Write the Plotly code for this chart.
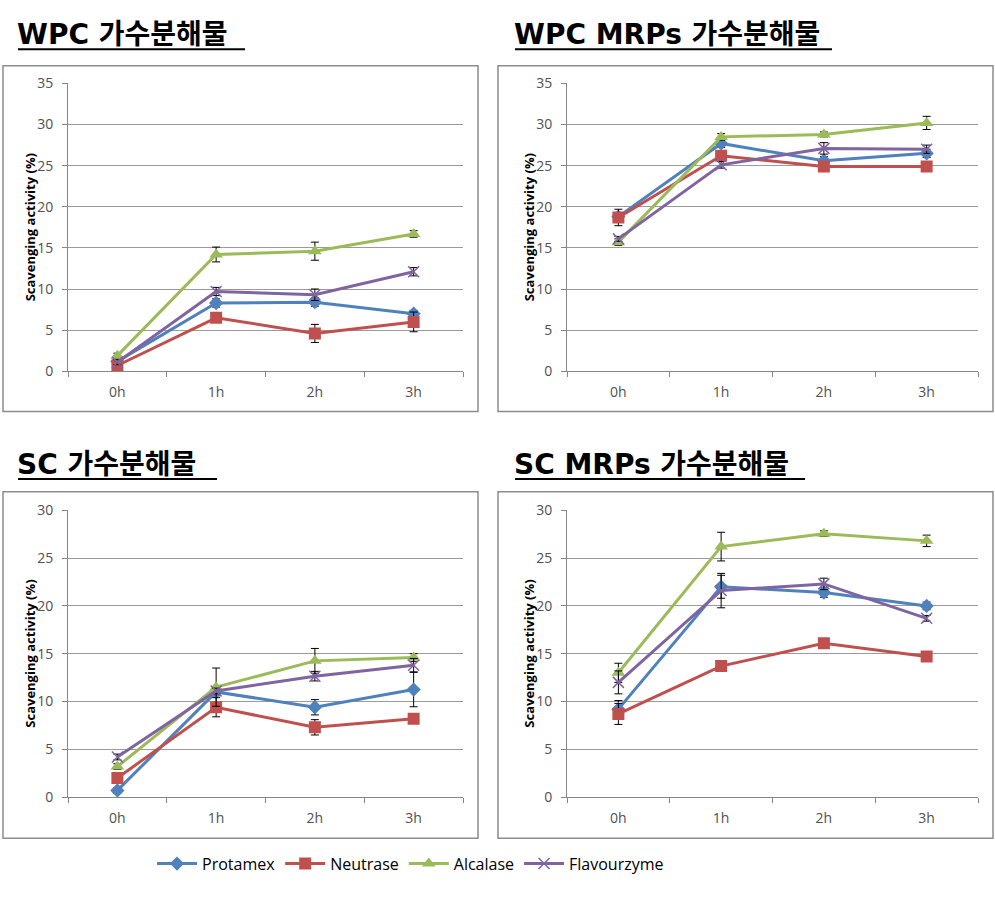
import plotly.graph_objects as go

W, H = 995, 905

hours = ["0h", "1h", "2h", "3h"]
enzymes = ["Protamex", "Neutrase", "Alcalase", "Flavourzyme"]
panel_titles = ["WPC 가수분해물", "WPC MRPs 가수분해물", "SC 가수분해물", "SC MRPs 가수분해물"]

wpc_protamex = [1.2, 8.3, 8.4, 7.0]
wpc_neutrase = [0.7, 6.5, 4.6, 6.0]
wpc_alcalase = [1.9, 14.2, 14.6, 16.7]
wpc_flavourzyme = [1.1, 9.7, 9.3, 12.1]

wpcm_protamex = [18.8, 27.7, 25.6, 26.5]
wpcm_neutrase = [18.7, 26.2, 24.9, 24.9]
wpcm_alcalase = [15.7, 28.5, 28.8, 30.2]
wpcm_flavourzyme = [16.1, 25.1, 27.1, 27.0]

sc_protamex = [0.7, 11.0, 9.4, 11.25]
sc_neutrase = [2.0, 9.4, 7.3, 8.2]
sc_alcalase = [3.2, 11.5, 14.25, 14.6]
sc_flavourzyme = [4.2, 11.1, 12.65, 13.8]

scm_protamex = [9.2, 22.0, 21.4, 20.0]
scm_neutrase = [8.7, 13.7, 16.1, 14.7]
scm_alcalase = [13.0, 26.2, 27.55, 26.8]
scm_flavourzyme = [12.0, 21.6, 22.3, 18.7]

wpc_err = [[0.3, 0.5, 0.5, 0.4], [0.3, 0.5, 1.1, 1.2], [0.3, 0.9, 1.1, 0.4], [0.3, 0.5, 0.7, 0.5]]
wpcm_err = [[0.5, 0.5, 0.5, 0.5], [1.0, 0.6, 0.4, 0.3], [0.4, 0.4, 0.3, 0.8], [0.3, 0.4, 0.7, 0.5]]
sc_err = [[0.3, 0.4, 0.8, 1.8], [0.3, 1.0, 0.8, 0.4], [0.3, 2.0, 1.3, 0.4], [0.3, 0.3, 0.5, 0.7]]
scm_err = [[0.9, 1.2, 0.5, 0.4], [1.1, 0.4, 0.4, 0.3], [1.0, 1.5, 0.3, 0.6], [1.2, 1.8, 0.6, 0.3]]

y_max = [35, 35, 30, 30]

panels = [
    [wpc_protamex, wpc_neutrase, wpc_alcalase, wpc_flavourzyme],
    [wpcm_protamex, wpcm_neutrase, wpcm_alcalase, wpcm_flavourzyme],
    [sc_protamex, sc_neutrase, sc_alcalase, sc_flavourzyme],
    [scm_protamex, scm_neutrase, scm_alcalase, scm_flavourzyme],
]
errors = [wpc_err, wpcm_err, sc_err, scm_err]

colors = ["#4F81BD", "#C0504D", "#9BBB59", "#8064A2"]
symbols = ["diamond", "square", "triangle-up", "x-thin"]
msizes = [11, 12, 12, 11]

plot_px = [(68, 463, 75, 369), (567, 978, 75, 369), (68, 463, 511, 804), (567, 978, 511, 804)]
frame_px = [(3, 478, 57, 410), (498, 993, 57, 410), (3, 478, 492, 846), (498, 993, 492, 846)]
title_px = [(18, 25, 245), (515, 25, 832), (18, 464, 217), (515, 464, 805)]

fx = lambda px: px / W
fy = lambda py: 1 - py / H

fig = go.Figure()
layout = {}
shapes = []
annotations = []

for p in range(4):
    idx = "" if p == 0 else str(p + 1)
    xa, ya = "x" + idx, "y" + idx
    for k in range(4):
        mk = dict(symbol=symbols[k], size=msizes[k], color=colors[k])
        if symbols[k] == "x-thin":
            mk["line"] = dict(color=colors[k], width=1.5)
        fig.add_trace(go.Scatter(
            x=hours, y=panels[p][k], name=enzymes[k], mode="lines+markers",
            line=dict(color=colors[k], width=3), marker=mk,
            error_y=dict(type="data", array=errors[p][k], color="#000000", thickness=1, width=4),
            xaxis=xa, yaxis=ya, showlegend=(p == 0), legendgroup=enzymes[k],
        ))
    x0, x1, yt, yb = plot_px[p]
    layout["xaxis" + idx] = dict(
        domain=[fx(x0), fx(x1)], anchor=ya, type="category", categoryorder="array",
        categoryarray=hours, tickson="boundaries", ticks="outside", ticklen=5,
        tickcolor="#868686", showline=True, linecolor="#868686", linewidth=1,
        showgrid=False, zeroline=False, range=[-0.5, 3.5], ticklabelstandoff=8,
        tickfont=dict(family="Open Sans", size=14, color="#505050"),
    )
    layout["yaxis" + idx] = dict(
        domain=[fy(yb), fy(yt)], anchor=xa, range=[0, y_max[p]], dtick=5,
        ticks="outside", ticklen=5, tickcolor="#868686", showline=True,
        linecolor="#868686", linewidth=1, showgrid=True, gridcolor="#9A9A9A",
        gridwidth=1, zeroline=False, ticklabelstandoff=6,
        tickfont=dict(family="Open Sans", size=14, color="#505050"),
    )
    fx0, fx1, fy0, fy1 = frame_px[p]
    shapes.append(dict(type="rect", xref="paper", yref="paper", x0=fx(fx0), x1=fx(fx1),
                       y0=fy(fy1), y1=fy(fy0), line=dict(color="#8C8C8C", width=1.5)))
    tx, ty, tend = title_px[p]
    annotations.append(dict(text="<b>" + panel_titles[p] + "</b>", xref="paper", yref="paper",
                            x=fx(tx - 3), y=fy(ty), xanchor="left", yanchor="middle", showarrow=False,
                            font=dict(family="DejaVu Sans, Noto Sans CJK KR", size=28, color="#000000")))
    shapes.append(dict(type="line", xref="paper", yref="paper", x0=fx(tx), x1=fx(tend),
                       y0=fy(ty + 15), y1=fy(ty + 15), line=dict(color="#000000", width=2)))
    annotations.append(dict(text="<b>Scavenging activity (%)</b>", xref="paper", yref="paper",
                            x=fx(x0 - 38), y=fy((yt + yb) / 2), textangle=-90,
                            xanchor="center", yanchor="middle", showarrow=False,
                            font=dict(family="Open Sans", size=13, color="#000000")))

fig.update_layout(
    width=W, height=H, margin=dict(l=0, r=0, t=0, b=0),
    paper_bgcolor="white", plot_bgcolor="white",
    shapes=shapes, annotations=annotations,
    legend=dict(orientation="h", x=fx(152), xanchor="left", y=fy(872), yanchor="middle",
                font=dict(family="Open Sans", size=16, color="#000000"),
                itemwidth=40, tracegroupgap=0),
    **layout,
)

fig.write_html("out.html", config={"displayModeBar": False},
               post_script="document.body.style.margin='0';document.body.style.overflow='hidden';")
